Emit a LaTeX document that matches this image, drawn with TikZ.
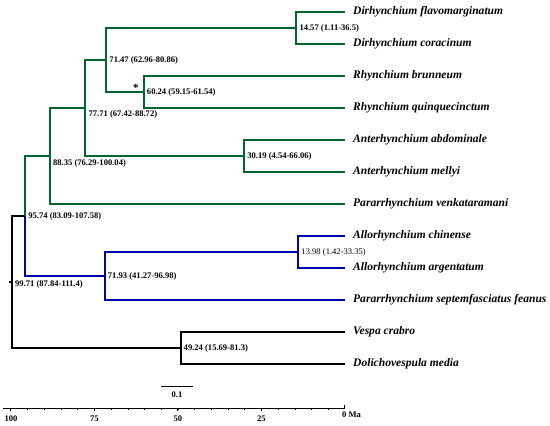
\documentclass[tikz,border=0pt]{standalone}
\usepackage{fontspec}
\setmainfont{Liberation Serif}
\usepackage{tikz, xcolor}
\definecolor{treegreen}{RGB}{0,102,45}
\definecolor{treeblue}{RGB}{0,0,170}

\begin{document}
\begin{tikzpicture}[x=-3.34bp, y=-32bp,
    br/.style={line width=2bp},
    taxon/.style={anchor=west, inner xsep=8bp, inner ysep=0pt, font=\fontsize{11.6}{13}\selectfont\bfseries\itshape},
    age/.style={anchor=west, inner sep=1bp, xshift=2bp, font=\fontsize{8.6}{10}\selectfont\bfseries},
    axlbl/.style={font=\fontsize{8.6}{10}\selectfont\bfseries}]
    \useasboundingbox (103.29,-0.375) rectangle (-61.38,12.9375);
    % tips
    \node[taxon] (dfla) at (0,0) {Dirhynchium flavomarginatum};
    \node[taxon] (dcor) at (0,1) {Dirhynchium coracinum};
    \node[taxon] (rbru) at (0,2) {Rhynchium brunneum};
    \node[taxon] (rqui) at (0,3) {Rhynchium quinquecinctum};
    \node[taxon] (aabd) at (0,4) {Anterhynchium abdominale};
    \node[taxon] (amel) at (0,5) {Anterhynchium mellyi};
    \node[taxon] (pven) at (0,6) {Pararrhynchium venkataramani};
    \node[taxon] (achi) at (0,7) {Allorhynchium chinense};
    \node[taxon] (aarg) at (0,8) {Allorhynchium argentatum};
    \node[taxon] (psep) at (0,9) {Pararrhynchium septemfasciatus feanus};
    \node[taxon] (vcra) at (0,10) {Vespa crabro};
    \node[taxon] (dmed) at (0,11) {Dolichovespula media};
    % internal nodes (x = age in Ma)
    \coordinate (n1457) at (14.57,0.5);
    \coordinate (n6024) at (60.24,2.5);
    \coordinate (n7147) at (71.47,1.5);
    \coordinate (n3019) at (30.19,4.5);
    \coordinate (n7771) at (77.71,3);
    \coordinate (n8835) at (88.35,4.5);
    \coordinate (n1398) at (13.98,7.5);
    \coordinate (n7193) at (71.93,8.25);
    \coordinate (n9574) at (95.74,6.375);
    \coordinate (n4924) at (49.24,10.5);
    \coordinate (n9971) at (99.71,8.4375);
    \coordinate (root) at (100.6,8.4375);
    % black branches
    \draw[br] (vcra.west) -| (n4924) |- (dmed.west);
    \draw[br] (n9574) -| (n9971) |- (n4924);
    \draw[br] (root) -- (n9971);
    % green branches
    \draw[br, treegreen] (dfla.west) -| (n1457) |- (dcor.west);
    \draw[br, treegreen] (rbru.west) -| (n6024) |- (rqui.west);
    \draw[br, treegreen] (n1457) -| (n7147) |- (n6024);
    \draw[br, treegreen] (aabd.west) -| (n3019) |- (amel.west);
    \draw[br, treegreen] (n7147) -| (n7771) |- (n3019);
    \draw[br, treegreen] (n7771) -| (n8835) |- (pven.west);
    \draw[br, treegreen] (n8835) -| (n9574);
    % blue branches
    \draw[br, treeblue] (achi.west) -| (n1398) |- (aarg.west);
    \draw[br, treeblue] (n1398) -| (n7193) |- (psep.west);
    \draw[br, treeblue] (n9574) |- (n7193);
    % node ages
    \node[age] at (n1457) {14.57 (1.11-36.5)};
    \node[age] at (n6024) {60.24 (59.15-61.54)};
    \node[age] at (n7147) {71.47 (62.96-80.86)};
    \node[age] at (n3019) {30.19 (4.54-66.06)};
    \node[age, anchor=north west, yshift=-1bp] at (n7771) {77.71 (67.42-88.72)};
    \node[age, anchor=north west, yshift=-2.5bp] at (n8835) {88.35 (76.29-100.04)};
    \node[age] at (n9574) {95.74 (83.09-107.58)};
    \node[age, font=\fontsize{8.6}{10}\selectfont] at (n1398) {13.98 (1.42-33.35)};
    \node[age] at (n7193) {71.93 (41.27-96.98)};
    \node[age] at (n4924) {49.24 (15.69-81.3)};
    \node[age, yshift=-2bp] at (n9971) {99.71 (87.84-111.4)};
    \node[inner sep=0pt, font=\fontsize{11}{12}\selectfont\bfseries] at ([xshift=-8bp,yshift=4bp]n6024) {*};
    % scale bar
    \coordinate (sbl) at (55.1,11.69);
    \coordinate (sbr) at (45.5,11.69);
    \draw[line width=1bp] (sbl) -- (sbr) node[midway, below, yshift=-2bp, axlbl] {0.1};
    % time axis
    \coordinate (axl) at (102.4,12.375);
    \coordinate (axr) at (0,12.375);
    \draw[line width=1bp] (axl) -- (axr);
    \foreach \t in {5,10,...,95} \draw[line width=0.7bp] (\t,12.375) -- ++(0,-2bp);
    \foreach \t in {100,75,50,25} \draw[line width=1bp] (\t,12.375) -- ++(0,-3bp) node[below, yshift=-1bp, axlbl] {\t};
    \draw[line width=1bp] (axr) -- ++(0,3bp);
    \node[axlbl, anchor=west, inner sep=0pt] at ([xshift=-3bp,yshift=-7bp]axr) {0 Ma};
\end{tikzpicture}
\end{document}
